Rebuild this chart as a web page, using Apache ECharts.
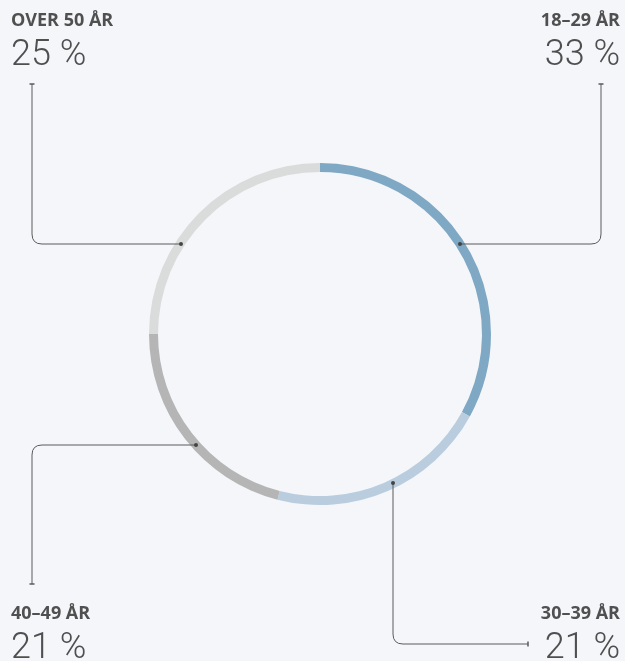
<!DOCTYPE html>
<html>
<head>
<meta charset="utf-8">
<script src="https://cdn.jsdelivr.net/npm/echarts@6/dist/echarts.min.js"></script>
<style>
  html, body { margin: 0; padding: 0; background: #f4f6fa; }
  #main { width: 625px; height: 661px; }
</style>
</head>
<body>
<div id="main"></div>
<script>
// aldersgrupper, med uret fra toppen
const categories = ['18–29 ÅR', '30–39 ÅR', '40–49 ÅR', 'OVER 50 ÅR'];
const shares = [33, 21, 21, 25];
const colors = ['#7ea8c3', '#b9cddf', '#b5b5b5', '#dadbdb'];

const myChart = echarts.init(document.getElementById('main'));

// plassering av etiketter og linjer (piksler)
const cx = 320, cy = 334;
const labelPos = [
  { x: 620, y: 12, align: 'right' },
  { x: 620, y: 605, align: 'right' },
  { x: 11, y: 605, align: 'left' },
  { x: 11, y: 12, align: 'left' }
];
// punkt på ringen -> hjørne -> endepunkt (med liten tverrstrek)
const leaders = [
  { dot: [460, 244], corner: [601, 244], end: [601, 84] },
  { dot: [393, 483], corner: [393, 644], end: [528, 644] },
  { dot: [196, 445], corner: [32, 445], end: [32, 584] },
  { dot: [181, 244], corner: [32, 244], end: [32, 84] }
];
const R = 10;
const lineStyle = { stroke: '#5a5a5a', lineWidth: 1, fill: null };

function step(from, to, d) {
  const dx = Math.sign(to[0] - from[0]), dy = Math.sign(to[1] - from[1]);
  return [from[0] + dx * d, from[1] + dy * d];
}

const graphics = [];
categories.forEach((c, i) => {
  const p = labelPos[i];
  graphics.push({
    type: 'text', x: p.x, y: p.y, z: 10,
    style: { text: c, align: p.align, verticalAlign: 'top', fill: '#505050',
      fontFamily: 'Open Sans', fontWeight: 'bold', fontSize: 18 }
  });
  graphics.push({
    type: 'text', x: p.x, y: p.y + 26, z: 10,
    style: { text: shares[i] + ' %', align: p.align, verticalAlign: 'top', fill: '#4f4f4f',
      fontFamily: 'Roboto', fontWeight: 300, fontSize: 36 }
  });
  const l = leaders[i];
  const c1 = step(l.corner, l.dot, R), c2 = step(l.corner, l.end, R);
  graphics.push({ type: 'line', z: 10, shape: { x1: l.dot[0], y1: l.dot[1], x2: c1[0], y2: c1[1] }, style: lineStyle });
  graphics.push({ type: 'bezierCurve', z: 10,
    shape: { x1: c1[0], y1: c1[1], x2: c2[0], y2: c2[1], cpx1: l.corner[0], cpy1: l.corner[1] }, style: lineStyle });
  graphics.push({ type: 'line', z: 10, shape: { x1: c2[0], y1: c2[1], x2: l.end[0], y2: l.end[1] }, style: lineStyle });
  // tverrstrek i enden
  const horiz = l.end[0] === l.corner[0];
  graphics.push({ type: 'line', z: 10,
    shape: horiz ? { x1: l.end[0] - 2.5, y1: l.end[1], x2: l.end[0] + 2.5, y2: l.end[1] }
                 : { x1: l.end[0], y1: l.end[1] - 2.5, x2: l.end[0], y2: l.end[1] + 2.5 },
    style: { stroke: '#5a5a5a', lineWidth: 1.5 } });
  graphics.push({ type: 'circle', z: 11, shape: { cx: l.dot[0], cy: l.dot[1], r: 2 },
    style: { fill: '#444' } });
});

myChart.setOption({
  backgroundColor: '#f4f6fa',
  animation: false,
  color: colors,
  series: [{
    type: 'pie',
    center: [cx, cy],
    radius: [162, 171],
    startAngle: 90,
    clockwise: true,
    silent: true,
    label: { show: false },
    labelLine: { show: false },
    itemStyle: { borderWidth: 0 },
    data: categories.map((c, i) => ({ name: c, value: shares[i] }))
  }],
  graphic: graphics
});
</script>
</body>
</html>
